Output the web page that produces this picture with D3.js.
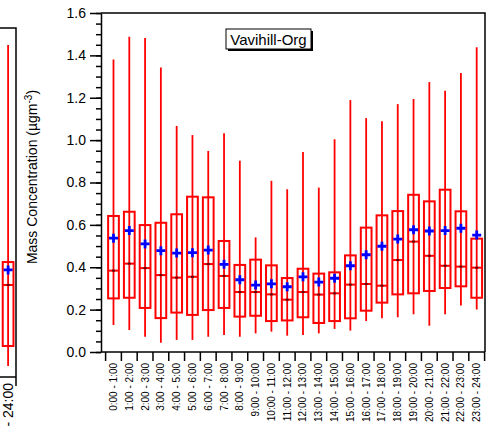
<!DOCTYPE html>
<html>
<head>
<meta charset="utf-8">
<script src="https://cdn.jsdelivr.net/npm/d3@7"></script>
<style>
  html, body { margin: 0; padding: 0; background: #fff; }
  svg { display: block; font-family: "Liberation Sans", Arial, sans-serif; }
</style>
</head>
<body>
<svg id="chart" width="495" height="429"></svg>
<script>
// Hour-of-day bins
const hours = ["0:00 - 1:00","1:00 - 2:00","2:00 - 3:00","3:00 - 4:00","4:00 - 5:00","5:00 - 6:00",
  "6:00 - 7:00","7:00 - 8:00","8:00 - 9:00","9:00 - 10:00","10:00 - 11:00","11:00 - 12:00",
  "12:00 - 13:00","13:00 - 14:00","14:00 - 15:00","15:00 - 16:00","16:00 - 17:00","17:00 - 18:00",
  "18:00 - 19:00","19:00 - 20:00","20:00 - 21:00","21:00 - 22:00","22:00 - 23:00","23:00 - 24:00"];

// Box statistics per hour (µg m-3)
const whiskerLow  = [0.127,0.104,0.072,0.044,0.057,0.057,0.072,0.080,0.072,0.088,0.096,0.077,
                     0.080,0.088,0.109,0.101,0.146,0.159,0.164,0.178,0.124,0.178,0.219,0.201];
const q1          = [0.253,0.256,0.208,0.160,0.186,0.175,0.198,0.208,0.167,0.171,0.146,0.149,
                     0.164,0.137,0.146,0.159,0.195,0.233,0.272,0.277,0.288,0.302,0.310,0.256];
const median      = [0.384,0.417,0.396,0.363,0.351,0.355,0.415,0.359,0.283,0.283,0.272,0.247,
                     0.283,0.271,0.277,0.318,0.321,0.313,0.434,0.521,0.454,0.407,0.403,0.398];
const q3          = [0.642,0.662,0.599,0.610,0.650,0.733,0.730,0.524,0.411,0.436,0.409,0.349,
                     0.393,0.370,0.376,0.456,0.587,0.645,0.665,0.742,0.711,0.766,0.664,0.535];
const whiskerHigh = [1.381,1.488,1.482,1.343,1.067,1.024,0.949,1.032,0.903,0.541,0.808,0.768,
                     0.944,0.776,1.004,1.189,1.104,1.089,1.170,1.194,1.274,1.233,1.317,1.438];
const mean        = [0.537,0.573,0.510,0.478,0.467,0.469,0.481,0.414,0.341,0.316,0.322,0.308,
                     0.355,0.330,0.348,0.407,0.459,0.499,0.533,0.577,0.571,0.573,0.584,0.552];

// Last bin of the neighbouring panel
const prevHours = ["23:00 - 24:00"];
const prevStats = { low: [0.050], q1: [0.142], median: [0.422], q3: [0.527], high: [1.522], mean: [0.491] };

const yTicks = [0.0,0.2,0.4,0.6,0.8,1.0,1.2,1.4,1.6];
const chartTitle = "Vavihill-Org";

const svg = d3.select("#chart");
const RED = "#ff0000", BLUE = "#0000ff";

// ---------- neighbouring panel (runs off the left and bottom edges) ----------
const px = d3.scaleBand().domain(prevHours).range([0.2, 16]).padding(0);
const py = d3.scaleLinear().domain([0, 1.6]).range([377, 28]);
const prev = svg.append("g");
drawBoxes(prev, prevHours, px, py,
  prevStats.low, prevStats.q1, prevStats.median, prevStats.q3, prevStats.high, prevStats.mean);
prev.append("path").attr("d", `M0,${py(1.6)}H16V386`).attr("fill","none").attr("stroke","#000").attr("stroke-width",1.5);
prev.append("path").attr("d", `M0,${py(0)}H16`).attr("fill","none").attr("stroke","#000").attr("stroke-width",1.5);
prev.selectAll("text.xl").data(prevHours).join("text")
  .attr("transform", d => `translate(${px(d) + px.bandwidth()/2},383) rotate(-90)`)
  .attr("text-anchor","end").attr("dy","0.35em").attr("font-size",14).text(d => d);

// ---------- main panel ----------
const x = d3.scaleBand().domain(hours).range([105.6, 484.6]).padding(0);
const y = d3.scaleLinear().domain([0, 1.6]).range([352, 13]);
const left = 101, right = 485;

// frame: top and right edges
svg.append("path").attr("d", `M${left},${y(1.6)}H${right}V${y(0)}`)
  .attr("fill","none").attr("stroke","#000").attr("stroke-width",1.5);

const g = svg.append("g");
drawBoxes(g, hours, x, y, whiskerLow, q1, median, q3, whiskerHigh, mean);

// y axis: minor ticks every 0.05, labelled majors every 0.2
const minor = d3.range(0, 33).map(i => i * 0.05);
svg.append("g").attr("transform", `translate(${left},0)`)
  .call(d3.axisLeft(y).tickValues(minor).tickSize(5).tickSizeOuter(0).tickFormat(""))
  .call(a => a.selectAll("line,path").attr("stroke","#000").attr("stroke-width",1.5));
svg.append("g").attr("transform", `translate(${left},0)`)
  .call(d3.axisLeft(y).tickValues(yTicks).tickSize(11).tickSizeOuter(0).tickPadding(4).tickFormat(d3.format(".1f")))
  .call(a => a.select(".domain").remove())
  .call(a => a.selectAll("line").attr("stroke","#000").attr("stroke-width",1.5))
  .call(a => a.selectAll("text").attr("font-size",14).attr("fill","#000")
    .attr("font-family","'Liberation Sans', Arial, sans-serif"));

// x axis: ticks on bin boundaries, labels centred in bins
const xa = svg.append("g");
xa.append("line").attr("x1", left).attr("x2", right).attr("y1", y(0)).attr("y2", y(0))
  .attr("stroke","#000").attr("stroke-width",1.5);
const bounds = hours.map(h => x(h)).concat([x.range()[1]]);
xa.selectAll("line.tk").data(bounds).join("line").attr("class","tk")
  .attr("x1", d => d).attr("x2", d => d).attr("y1", y(0)).attr("y2", y(0) + 9)
  .attr("stroke","#000").attr("stroke-width",1.5);
xa.selectAll("text").data(hours).join("text")
  .attr("transform", d => `translate(${x(d) + x.bandwidth()/2},${y(0) + 11}) rotate(-90)`)
  .attr("text-anchor","end").attr("dy","0.35em").attr("font-size",10).text(d => d);

// y axis title
const yt = svg.append("text").attr("transform","translate(37,177) rotate(-90)")
  .attr("text-anchor","middle").attr("font-size",14);
yt.append("tspan").text("Mass Concentration (µgm");
yt.append("tspan").attr("baseline-shift","super").attr("font-size",10).text("-3");
yt.append("tspan").text(")");

// title box with drop shadow
const tb = svg.append("g").attr("transform","translate(226,29)");
tb.append("rect").attr("x",2).attr("y",2).attr("width",85).attr("height",20).attr("fill","#000");
tb.append("rect").attr("width",85).attr("height",20).attr("fill","#fff").attr("stroke","#000").attr("stroke-width",1);
tb.append("text").attr("x",42.5).attr("y",15.5).attr("text-anchor","middle").attr("font-size",15).text(chartTitle);

function drawBoxes(sel, cats, xs, ys, lo, a, med, b, hi, mn) {
  const bw = xs.bandwidth() * 0.68;
  const cx = i => xs(cats[i]) + xs.bandwidth() / 2;
  const idx = d3.range(cats.length);
  sel.selectAll(null).data(idx).join("line")
    .attr("x1", cx).attr("x2", cx).attr("y1", i => ys(lo[i])).attr("y2", i => ys(hi[i]))
    .attr("stroke", RED).attr("stroke-width", 1.8);
  sel.selectAll(null).data(idx).join("rect")
    .attr("x", i => cx(i) - bw/2).attr("width", bw)
    .attr("y", i => ys(b[i])).attr("height", i => ys(a[i]) - ys(b[i]))
    .attr("fill", "none").attr("stroke", RED).attr("stroke-width", 2);
  sel.selectAll(null).data(idx).join("line")
    .attr("x1", i => cx(i) - bw/2).attr("x2", i => cx(i) + bw/2)
    .attr("y1", i => ys(med[i])).attr("y2", i => ys(med[i]))
    .attr("stroke", RED).attr("stroke-width", 2);
  sel.selectAll(null).data(idx).join("line")
    .attr("x1", i => cx(i) - 1.5).attr("x2", i => cx(i) + 1.5)
    .attr("y1", i => ys(med[i])).attr("y2", i => ys(med[i]))
    .attr("stroke", "#600").attr("stroke-width", 2);
  sel.selectAll(null).data(idx).join("path")
    .attr("d", i => `M${cx(i) - 4.5},${ys(mn[i])}h9M${cx(i)},${ys(mn[i]) - 4.5}v9`)
    .attr("stroke", BLUE).attr("stroke-width", 2.8).attr("fill", "none");
}
</script>
</body>
</html>
